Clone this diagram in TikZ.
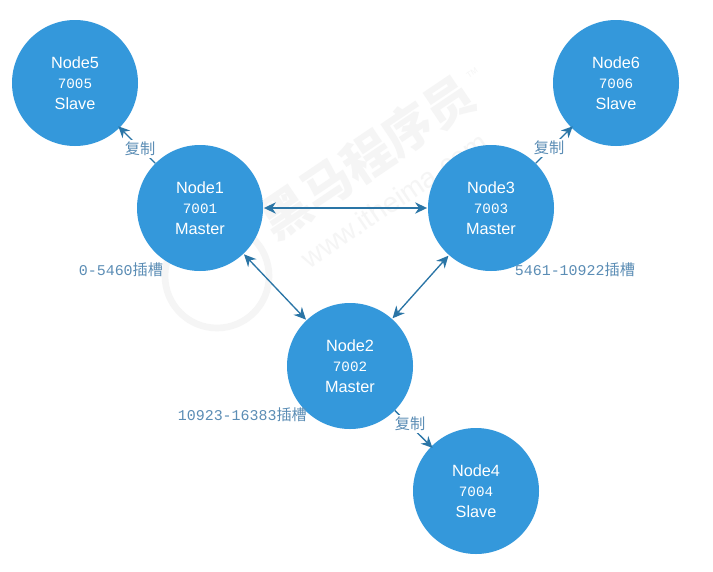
\documentclass[tikz,border=0pt]{standalone}
\usepackage{fontspec}
\setmainfont{Liberation Sans}
\newfontfamily\monof{Liberation Mono}
\newfontfamily\cjk{Noto Sans CJK SC}
\definecolor{nodeblue}{HTML}{3498DB}
\definecolor{linkblue}{HTML}{2A75A6}
\definecolor{labelblue}{HTML}{5B8DB5}
\definecolor{wm}{HTML}{F5F5F5}
\usetikzlibrary{arrows.meta}
\tikzset{
  cnode/.style={circle,fill=nodeblue,text=white,minimum size=94.5pt,inner sep=0pt,align=center,font=\fontsize{12.2pt}{15.6pt}\selectfont},
  link/.style={draw=linkblue,line width=1pt,{Stealth[length=9pt,width=8.5pt]}-{Stealth[length=9pt,width=8.5pt]},shorten <=0.5pt,shorten >=0.5pt},
  repl/.style={draw=linkblue,line width=1pt,-{Stealth[length=8.5pt,width=8pt]},shorten >=-1.5pt},
  lab/.style={text=labelblue,inner sep=0.5pt,font=\fontsize{11.4pt}{13pt}\selectfont},
  tag/.style={lab,fill=white,inner sep=1.5pt},
}
\newcommand{\nums}[1]{{\monof\fontsize{11.2pt}{13pt}\selectfont #1}}
\newcommand{\nodetext}[3]{#1\\{\monof\fontsize{10.7pt}{15.6pt}\selectfont #2}\\#3}
\begin{document}
\begin{tikzpicture}[x=0.75pt,y=-0.75pt]
\useasboundingbox (0,0) rectangle (713,571);
\fill[white] (0,0) rectangle (713,571);
% watermark
\draw[wm,line width=5pt] (217,276) circle (52);
\node[wm,rotate=34,font=\cjk\bfseries\fontsize{37pt}{37pt}\selectfont] (wmark) at (367,157) {黑马程序员};
\node[wm,rotate=34,font=\fontsize{21pt}{21pt}\selectfont] (wurl) at (394,200) {www.itheima.com};
\node[wm,rotate=34,font=\fontsize{6pt}{6pt}\selectfont] (wtm) at (472,73) {TM};
% nodes
\node[cnode] (n1) at (200,208) {\nodetext{Node1}{7001}{Master}};
\node[cnode] (n2) at (350,366) {\nodetext{Node2}{7002}{Master}};
\node[cnode] (n3) at (491,208) {\nodetext{Node3}{7003}{Master}};
\node[cnode] (n4) at (476,491) {\nodetext{Node4}{7004}{Slave}};
\node[cnode] (n5) at (75,83) {\nodetext{Node5}{7005}{Slave}};
\node[cnode] (n6) at (616,83) {\nodetext{Node6}{7006}{Slave}};
% links
\draw[link] (n1) -- (n3);
\draw[link] (n1) -- (n2);
\draw[link] (n3) -- (n2);
\draw[repl] (n1) -- (n5);
\draw[repl] (n3) -- (n6);
\draw[repl] (n2) -- (n4);
\node[tag] (t1) at (140,149) {\cjk 复制};
\node[tag] (t3) at (549,148) {\cjk 复制};
\node[tag] (t2) at (410,424) {\cjk 复制};
% slot labels
\node[lab,anchor=west] (s1) at (78,270) {\nums{0-5460}\cjk 插槽};
\node[lab,anchor=west] (s3) at (514,270) {\nums{5461-10922}\cjk 插槽};
\node[lab,anchor=west] (s2) at (177,415) {\nums{10923-16383}\cjk 插槽};
\end{tikzpicture}
\end{document}
